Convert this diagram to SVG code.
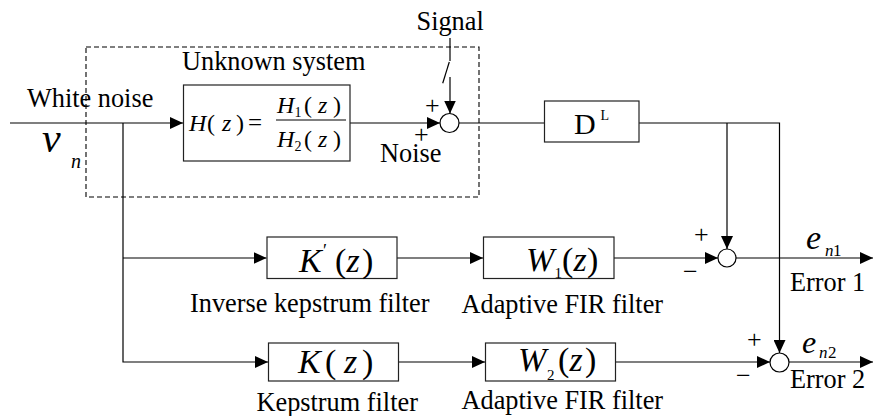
<svg xmlns="http://www.w3.org/2000/svg" width="873" height="416" viewBox="0 0 873 416" style="font-family:'Liberation Serif','Times New Roman',serif">
<defs>
<style>
.ln{stroke:#000;stroke-width:1.2;fill:none}
.box{stroke:#222;stroke-width:1.2;fill:#fff}
.sum{stroke:#000;stroke-width:1.2;fill:#fff}
.dash{stroke:#000;stroke-width:1.1;fill:none;stroke-dasharray:5,3}
text{font-family:'Liberation Serif','Times New Roman',serif;fill:#000}
.lb{font-size:26.3px}
.it{font-style:italic}
.sg{font-size:26px}
</style>
<marker id="ah" markerUnits="userSpaceOnUse" markerWidth="13" markerHeight="12" refX="13" refY="6" orient="auto">
<path d="M0,0 L13,6 L0,12 z" fill="#000"/>
</marker>
</defs>
<rect width="873" height="416" fill="#fff"/>

<g id="unknown-system">
<rect class="dash" x="86" y="47" width="393" height="150"/>
<text class="lb" x="182" y="70">Unknown system</text>
</g>

<g id="connectors">
<line class="ln" x1="10" y1="123" x2="183" y2="123" marker-end="url(#ah)"/>
<line class="ln" x1="350" y1="123" x2="440" y2="123" marker-end="url(#ah)"/>
<polyline class="ln" points="450,38 450,61"/>
<line class="ln" x1="449.3" y1="62" x2="442.7" y2="83.3"/>
<line class="ln" x1="450" y1="77" x2="450" y2="113.5" marker-end="url(#ah)"/>
<line class="ln" x1="459" y1="123" x2="544" y2="123"/>
<polyline class="ln" points="639,123 779.5,123 779.5,353" marker-end="url(#ah)"/>
<line class="ln" x1="727" y1="123" x2="727" y2="249" marker-end="url(#ah)"/>
<polyline class="ln" points="123,123 123,362 268,362" marker-end="url(#ah)"/>
<line class="ln" x1="123" y1="258" x2="266.5" y2="258" marker-end="url(#ah)"/>
<line class="ln" x1="397" y1="258" x2="483" y2="258" marker-end="url(#ah)"/>
<line class="ln" x1="614" y1="258" x2="718" y2="258" marker-end="url(#ah)"/>
<line class="ln" x1="736" y1="258" x2="873" y2="258" marker-end="url(#ah)"/>
<line class="ln" x1="399" y1="362" x2="485" y2="362" marker-end="url(#ah)"/>
<line class="ln" x1="616" y1="362" x2="770" y2="362" marker-end="url(#ah)"/>
<line class="ln" x1="789" y1="362" x2="873" y2="362" marker-end="url(#ah)"/>
</g>

<g id="input">
<text class="lb" x="27" y="106.5">White noise</text>
<text class="it" x="42" y="151.5" font-size="42">v</text>
<text class="it" x="71" y="168" font-size="20">n</text>
</g>

<g id="H-box">
<rect class="box" x="183.5" y="85" width="166.5" height="76"/>
<text class="it" x="189" y="131" font-size="24">H</text>
<text x="207" y="131" font-size="24">(</text>
<text class="it" x="222" y="131" font-size="24">z</text>
<text x="236" y="131" font-size="24">)</text>
<text x="248" y="131" font-size="25">=</text>
<line x1="276" y1="120" x2="346" y2="120" stroke="#000" stroke-width="1.2"/>
<text class="it" x="277" y="113" font-size="24">H</text>
<text x="294.5" y="117" font-size="14">1</text>
<text x="304" y="113" font-size="24">(</text>
<text class="it" x="318" y="113" font-size="24">z</text>
<text x="333" y="113" font-size="24">)</text>
<text class="it" x="277" y="147" font-size="24">H</text>
<text x="294.5" y="151" font-size="14">2</text>
<text x="304" y="147" font-size="24">(</text>
<text class="it" x="318" y="147" font-size="24">z</text>
<text x="333" y="147" font-size="24">)</text>
</g>

<g id="signal">
<text class="lb" x="416.5" y="30">Signal</text>
</g>

<g id="sum-1">
<circle class="sum" cx="449.5" cy="123" r="9.5"/>
<text class="sg" x="425" y="114">+</text>
<text class="sg" x="414" y="143">+</text>
<text class="lb" x="380" y="161.5" font-size="24.5">Noise</text>
</g>

<g id="delay">
<rect class="box" x="544.5" y="101" width="94.5" height="41"/>
<text x="574" y="134" font-size="30">D</text>
<text x="600.5" y="120" font-size="14">L</text>
</g>

<g id="inv-kepstrum">
<rect class="box" x="267" y="237" width="130" height="41.5"/>
<text class="it" x="299" y="271.5" font-size="34">K</text>
<text x="323" y="257" font-size="18">′</text>
<text x="335" y="271.5" font-size="34">(</text>
<text class="it" x="346.5" y="271.5" font-size="34">z</text>
<text x="362" y="271.5" font-size="34">)</text>
<text class="lb" x="190" y="312">Inverse kepstrum filter</text>
</g>

<g id="W1">
<rect class="box" x="483.5" y="237" width="130.5" height="41.5"/>
<text class="it" x="526" y="270.5" font-size="34">W</text>
<text x="554.5" y="278" font-size="15">1</text>
<text x="562" y="270.5" font-size="34">(</text>
<text class="it" x="573.5" y="270.5" font-size="34">z</text>
<text x="587" y="270.5" font-size="34">)</text>
<text class="lb" x="461.5" y="312.5">Adaptive FIR filter</text>
</g>

<g id="sum-2">
<circle class="sum" cx="727" cy="258" r="9"/>
<text class="sg" x="694" y="243">+</text>
<text class="sg" x="683" y="280">−</text>
</g>

<g id="out-1">
<text class="it" x="806" y="248.5" font-size="34">e</text>
<text class="it" x="825" y="256" font-size="17">n</text>
<text x="833" y="256" font-size="17">1</text>
<text class="lb" x="790" y="290.5">Error 1</text>
</g>

<g id="kepstrum">
<rect class="box" x="268.5" y="343" width="130" height="38"/>
<text class="it" x="298" y="373" font-size="34">K</text>
<text x="325" y="373" font-size="34">(</text>
<text class="it" x="344" y="373" font-size="34">z</text>
<text x="362" y="373" font-size="34">)</text>
<text class="lb" x="256.5" y="410.5">Kepstrum filter</text>
</g>

<g id="W2">
<rect class="box" x="485.5" y="343" width="130" height="38"/>
<text class="it" x="518" y="371" font-size="34">W</text>
<text x="547" y="380" font-size="15">2</text>
<text x="558" y="371" font-size="34">(</text>
<text class="it" x="569.5" y="371" font-size="34">z</text>
<text x="585" y="371" font-size="34">)</text>
<text class="lb" x="461.5" y="409">Adaptive FIR filter</text>
</g>

<g id="sum-3">
<circle class="sum" cx="779.5" cy="362.5" r="9.5"/>
<text class="sg" x="747" y="348">+</text>
<text class="sg" x="736" y="384">−</text>
</g>

<g id="out-2">
<text class="it" x="802" y="353" font-size="32">e</text>
<text class="it" x="819" y="358" font-size="17">n</text>
<text x="828" y="358" font-size="17">2</text>
<text class="lb" x="790" y="387.5">Error 2</text>
</g>
</svg>
